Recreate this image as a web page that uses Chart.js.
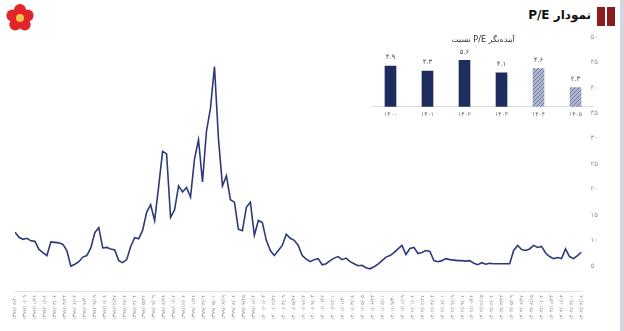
<!DOCTYPE html>
<html>
<head>
<meta charset="utf-8">
<script src="https://cdn.jsdelivr.net/npm/chart.js@4.4.0/dist/chart.umd.min.js"></script>
<style>
  html, body { margin: 0; padding: 0; background: #fff; }
  body { width: 624px; height: 331px; position: relative; overflow: hidden; font-family: "DejaVu Sans", sans-serif; }
  #main { position: absolute; left: 0; top: 0; }
  #inset { position: absolute; left: 372px; top: 31px; }
  #logo { position: absolute; left: 4px; top: 3px; }
  .strip { position: absolute; right: 0; top: 0; width: 4px; height: 331px; background: #d6d6de; }
  .title { position: absolute; right: 33px; top: 8px; font: bold 12px "DejaVu Sans", sans-serif; color: #111; direction: rtl; }
  .icon { position: absolute; left: 597px; top: 7px; width: 18px; height: 19px; }
  .icon span { position: absolute; top: 0; width: 8px; height: 19px; background: #8c1c1c; }
</style>
</head>
<body>
<canvas id="logo" width="32" height="30"></canvas>
<div class="title">نمودار P/E</div>
<div class="icon"><span style="left:0"></span><span style="left:10px"></span></div>
<canvas id="main" width="624" height="331"></canvas>
<canvas id="inset" width="222" height="91"></canvas>
<div class="strip"></div>
<script>
// P/E of the market (evenly spaced samples)
var peValues = [
  11.6, 10.6, 10.2, 10.4, 9.9, 9.8, 8.2, 7.6, 7.0, 9.7,
  9.6, 9.5, 9.2, 8.0, 4.9, 5.3, 5.8, 6.7, 7.0, 8.5,
  11.5, 12.5, 8.5, 8.6, 8.3, 8.1, 6.0, 5.6, 6.2, 8.8,
  10.5, 10.3, 12.0, 15.5, 17.0, 13.9, 20.5, 27.5, 27.0, 14.5,
  16.0, 20.7, 19.5, 20.4, 18.5, 26.0, 29.8, 21.5, 31.5, 36.0,
  44.2, 30.0, 20.7, 22.7, 18.0, 17.5, 12.2, 11.9, 16.5, 17.5,
  11.0, 13.9, 13.5, 10.0, 8.0, 7.0, 8.0, 9.0, 11.2, 10.4,
  10.0, 9.0, 7.0, 6.3, 5.8, 6.2, 6.4, 5.2, 5.4, 6.0,
  6.5, 6.8, 6.2, 6.5, 5.8, 5.4, 5.0, 5.1, 4.6, 4.4,
  4.8, 5.3, 6.0, 6.7, 7.0, 7.6, 8.3, 9.0, 7.2, 8.4,
  8.6, 7.4, 7.6, 8.0, 7.8, 6.0, 5.8, 6.0, 6.4, 6.2,
  6.1, 6.0, 6.0, 5.9, 6.0, 5.5, 5.2, 5.6, 5.3, 5.5,
  5.4, 5.4, 5.4, 5.4, 5.4, 8.0, 9.0, 8.2, 8.0, 8.3,
  9.0, 8.6, 8.8, 7.5, 6.8, 6.4, 6.6, 6.4, 8.3, 6.8,
  6.4, 7.0, 7.7
];

var dateLabels = [
  "1396/08/20", "1396/10/09", "1396/11/28", "1397/01/18", "1397/03/06", "1397/04/24",
  "1397/06/12", "1397/07/30", "1397/09/19", "1397/11/08", "1397/12/27", "1398/02/16",
  "1398/04/04", "1398/05/22", "1398/07/09", "1398/08/28", "1398/10/17", "1398/12/06",
  "1399/01/26", "1399/03/14", "1399/05/01", "1399/06/19", "1399/08/06", "1399/09/25",
  "1399/11/14", "1400/01/03", "1400/02/22", "1400/04/09", "1400/05/27", "1400/07/14",
  "1400/09/03", "1400/10/22", "1400/12/11", "1401/01/30", "1401/03/18", "1401/05/05",
  "1401/06/23", "1401/08/11", "1401/09/30", "1401/11/19", "1402/01/08", "1402/02/27",
  "1402/04/14", "1402/06/01", "1402/07/19", "1402/09/07", "1402/10/26", "1402/12/15",
  "1403/02/04", "1403/03/23", "1403/05/09", "1403/06/27", "1403/08/15", "1403/10/04",
  "1403/11/23", "1404/01/13", "1404/03/01", "1404/04/18"
];

// forward P/E (inset)
var fwdYears = ["1400", "1401", "1402", "1403", "1404", "1405"];
var fwdValues = [4.9, 4.3, 5.6, 4.1, 4.6, 2.3];
var fwdForecast = [false, false, false, false, true, true];

var faDigits = "۰۱۲۳۴۵۶۷۸۹";
function toFa(s) {
  return String(s).replace(/[0-9]/g, function (d) { return faDigits[+d]; });
}

// logo
(function () {
  var c = document.getElementById("logo").getContext("2d");
  c.fillStyle = "#e0262a";
  for (var k = 0; k < 5; k++) {
    var a = -Math.PI / 2 + k * 2 * Math.PI / 5;
    c.beginPath();
    c.arc(16 + 8 * Math.cos(a), 15 + 8 * Math.sin(a), 6, 0, 2 * Math.PI);
    c.fill();
  }
  c.fillStyle = "#f3c04a";
  c.beginPath();
  c.arc(16, 15, 4, 0, 2 * Math.PI);
  c.fill();
})();

var lastIdx = dateLabels.length - 1;
var linePoints = peValues.map(function (v, i) {
  return { x: i * lastIdx / (peValues.length - 1), y: v };
});

var ctx = document.getElementById("main").getContext("2d");
var chart = new Chart(ctx, {
  type: "line",
  data: {
    datasets: [{
      data: linePoints,
      borderColor: "#2c3b78",
      borderWidth: 1.6,
      pointRadius: 0,
      tension: 0
    }]
  },
  options: {
    responsive: false,
    animation: false,
    layout: { padding: { left: 15, right: 17, top: 37, bottom: 7 } },
    plugins: { legend: { display: false }, tooltip: { enabled: false } },
    scales: {
      x: {
        type: "linear",
        min: 0,
        max: lastIdx,
        grid: { display: false, drawTicks: false },
        border: { color: "#e2e2e2" },
        ticks: {
          stepSize: 1,
          autoSkip: false,
          maxRotation: 90,
          minRotation: 90,
          padding: 4,
          color: "#888",
          font: { family: "DejaVu Sans", size: 5 },
          callback: function (v) { return toFa(dateLabels[v] || ""); }
        }
      },
      y: {
        position: "right",
        min: 0,
        max: 50,
        grid: { display: false, drawTicks: false },
        border: { display: false },
        ticks: {
          stepSize: 5,
          padding: 9,
          color: "#999",
          font: { family: "DejaVu Sans", size: 7 },
          callback: function (v) { return v === 0 ? "" : toFa(v); }
        }
      }
    }
  }
});

// hatched fill for forecast bars
function hatch() {
  var p = document.createElement("canvas");
  p.width = 4; p.height = 4;
  var g = p.getContext("2d");
  g.fillStyle = "#aeb6d0";
  g.fillRect(0, 0, 4, 4);
  g.strokeStyle = "#6b779f";
  g.lineWidth = 1;
  g.beginPath();
  g.moveTo(0, 4); g.lineTo(4, 0);
  g.moveTo(-1, 1); g.lineTo(1, -1);
  g.moveTo(3, 5); g.lineTo(5, 3);
  g.stroke();
  return g.createPattern(p, "repeat");
}
var hatchFill = hatch();

var barLabels = {
  id: "barLabels",
  afterDatasetsDraw: function (c) {
    var g = c.ctx;
    var meta = c.getDatasetMeta(0);
    g.save();
    g.fillStyle = "#555";
    g.font = "7px 'DejaVu Sans'";
    g.textAlign = "center";
    g.textBaseline = "bottom";
    meta.data.forEach(function (bar, i) {
      g.fillText(toFa(fwdValues[i].toFixed(1)), bar.x, bar.y - 5);
    });
    g.restore();
  }
};

var ctx2 = document.getElementById("inset").getContext("2d");
var inset = new Chart(ctx2, {
  type: "bar",
  data: {
    labels: fwdYears.map(toFa),
    datasets: [{
      data: fwdValues,
      backgroundColor: fwdValues.map(function (v, i) { return fwdForecast[i] ? hatchFill : "#1f2d5e"; }),
      barThickness: 11
    }]
  },
  plugins: [barLabels],
  options: {
    responsive: false,
    animation: false,
    layout: { padding: { top: 0, bottom: 0 } },
    plugins: {
      legend: { display: false },
      tooltip: { enabled: false },
      title: {
        display: true,
        text: "نسبت P/E آینده‌نگر",
        color: "#333",
        font: { family: "DejaVu Sans", size: 8, weight: "normal" },
        padding: { top: 4, bottom: 4 }
      }
    },
    scales: {
      x: {
        grid: { display: false, drawTicks: false },
        border: { color: "#dcdcdc" },
        ticks: { color: "#666", font: { family: "DejaVu Sans", size: 6 }, padding: 4 }
      },
      y: { display: false, min: 0, max: 7.0 }
    }
  }
});
</script>
</body>
</html>
